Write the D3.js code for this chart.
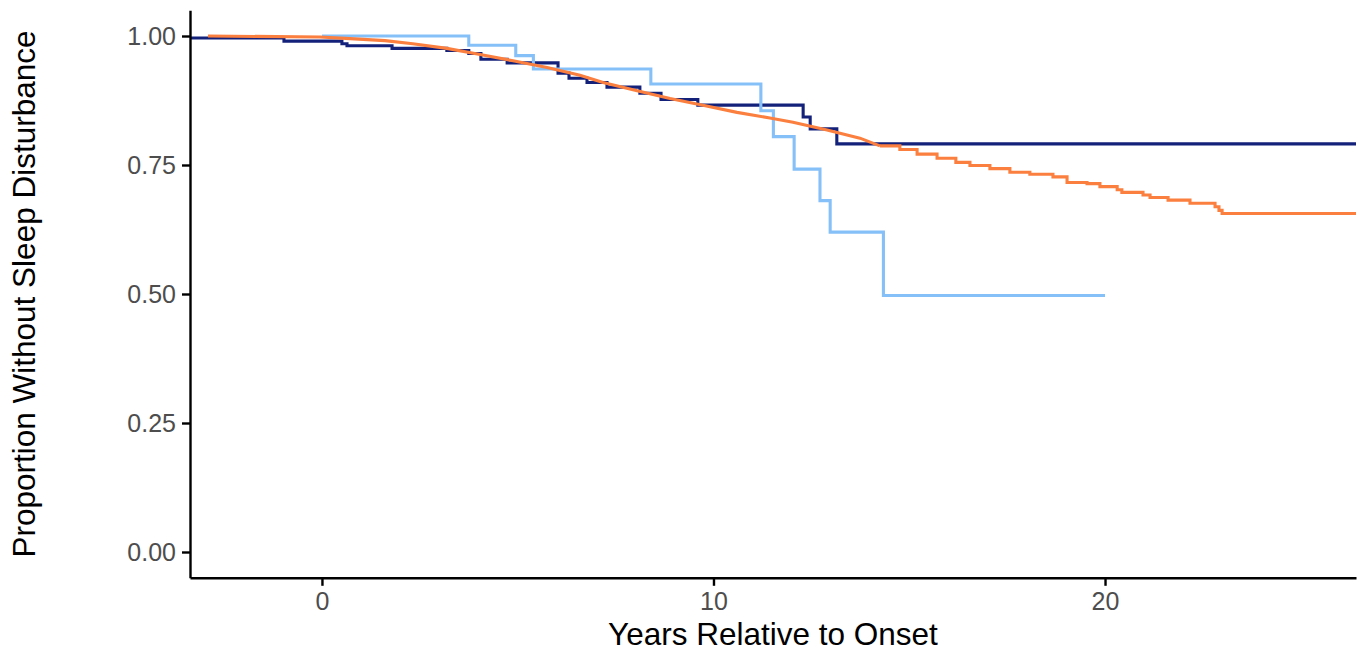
<!DOCTYPE html>
<html>
<head>
<meta charset="utf-8">
<script src="https://cdn.jsdelivr.net/npm/d3@7"></script>
<style>
  body { margin: 0; background: #fff; }
  .axis text { font-family: "Liberation Sans", Arial, sans-serif; font-size: 25px; fill: #4d4d4d; }
  .axis path, .axis line { stroke: #000; stroke-width: 2.4px; }
  .title { font-family: "Liberation Sans", Arial, sans-serif; font-size: 31.5px; fill: #000; }
</style>
</head>
<body>
<div id="km"></div>
<script>
// survival curves (years relative to onset, proportion)
var navyYears = [-3.6, -0.97, 0.51, 0.64, 1.79, 3.19, 3.75, 4.06, 4.73, 6.03, 6.31, 6.77, 7.28, 8.12, 8.66, 9.60, 12.29, 12.47, 13.15, 26.6];
var navySurv  = [0.996, 0.990, 0.985, 0.981, 0.976, 0.972, 0.966, 0.955, 0.948, 0.928, 0.918, 0.910, 0.901, 0.889, 0.877, 0.866, 0.843, 0.820, 0.791, 0.791];

var lightYears = [0, 3.75, 4.95, 5.40, 8.40, 11.21, 11.53, 12.06, 12.72, 12.98, 14.34, 20.0];
var lightSurv  = [1.000, 0.982, 0.962, 0.936, 0.907, 0.855, 0.805, 0.742, 0.681, 0.620, 0.497, 0.497];

var orangeYears = [-2.91, -0.05, 0.72, 1.61, 2.32, 3.19, 4.04, 4.88, 5.75, 6.59, 7.18, 8.05, 8.89, 9.73, 10.60, 11.44, 12.03, 12.90, 13.74, 14.25, 14.76, 15.20, 15.71, 16.19, 16.55, 17.06, 17.57, 18.08, 18.67, 19.03, 19.54, 19.87, 20.31, 20.43, 20.97, 21.15, 21.61, 22.17, 22.81, 22.91, 22.99, 26.6];
var orangeSurv  = [1.000, 0.998, 0.995, 0.991, 0.985, 0.976, 0.964, 0.952, 0.939, 0.924, 0.910, 0.894, 0.879, 0.866, 0.852, 0.841, 0.833, 0.818, 0.802, 0.787, 0.780, 0.771, 0.763, 0.755, 0.749, 0.743, 0.736, 0.732, 0.727, 0.716, 0.714, 0.708, 0.702, 0.697, 0.692, 0.687, 0.682, 0.676, 0.669, 0.662, 0.656, 0.656];

var xTicks = [0, 10, 20];
var yTicks = [0, 0.25, 0.5, 0.75, 1];

var seriesColors = ["#14217a", "#86c0f8", "#fb7f3f"];

function kmPlot(el_id, width = 1363, height = 656) {
    var left = 190, right = 1356, top = 10.2, bottom = 577.8;

    var x = d3.scaleLinear().domain([-3.37, 26.41]).range([left, right]);
    var y = d3.scaleLinear().domain([-0.05, 1.05]).range([bottom, top]);

    var svg = d3.select("#" + el_id).append("svg")
        .attr("width", width)
        .attr("height", height);

    svg.append("clipPath").attr("id", "panel")
        .append("rect")
        .attr("x", left).attr("y", top)
        .attr("width", right - left).attr("height", bottom - top);

    // the big group has so many tiny steps early on that it reads as a smooth curve,
    // so its first part is drawn straight between readings
    var split = 19;
    var series = [
        {years: navyYears, surv: navySurv, color: seriesColors[0], curve: d3.curveStepAfter},
        {years: lightYears, surv: lightSurv, color: seriesColors[1], curve: d3.curveStepAfter},
        {years: orangeYears.slice(0, split + 1), surv: orangeSurv.slice(0, split + 1), color: seriesColors[2], curve: d3.curveLinear},
        {years: orangeYears.slice(split), surv: orangeSurv.slice(split), color: seriesColors[2], curve: d3.curveStepAfter}
    ];

    svg.append("g")
        .attr("clip-path", "url(#panel)")
        .selectAll("path")
        .data(series)
        .enter().append("path")
        .attr("d", function(s) {
            return d3.line()
                .x(function(d) { return x(d[0]); })
                .y(function(d) { return y(d[1]); })
                .curve(s.curve)(d3.zip(s.years, s.surv));
        })
        .attr("fill", "none")
        .attr("stroke", function(s) { return s.color; })
        .attr("stroke-width", 3.1)
        .attr("stroke-linejoin", "miter");

    svg.append("g")
        .attr("class", "axis")
        .attr("transform", "translate(0," + bottom + ")")
        .call(d3.axisBottom(x).tickValues(xTicks).tickSize(8).tickSizeOuter(0).tickPadding(6));

    svg.append("g")
        .attr("class", "axis")
        .attr("transform", "translate(" + left + ",0)")
        .call(d3.axisLeft(y).tickValues(yTicks).tickFormat(d3.format(".2f")).tickSize(8).tickSizeOuter(0).tickPadding(6));

    svg.selectAll(".axis .tick line").attr("stroke", "#333");

    svg.append("text")
        .attr("class", "title")
        .attr("x", (left + right) / 2)
        .attr("y", 645)
        .attr("text-anchor", "middle")
        .text("Years Relative to Onset");

    svg.append("text")
        .attr("class", "title")
        .attr("transform", "translate(35," + (top + bottom) / 2 + ") rotate(-90)")
        .attr("text-anchor", "middle")
        .text("Proportion Without Sleep Disturbance");
}

function whenDocumentLoaded(action) {
    if (document.readyState === "loading") {
        document.addEventListener("DOMContentLoaded", action);
    } else {
        action();
    }
}

whenDocumentLoaded(() => {
    kmPlot('km');
});
</script>
</body>
</html>
